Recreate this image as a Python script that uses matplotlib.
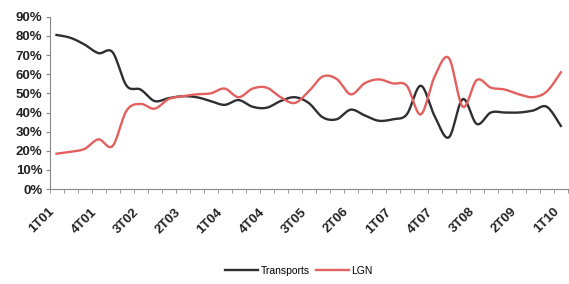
import numpy as np
import matplotlib
matplotlib.use("Agg")
import matplotlib.pyplot as plt
import matplotlib.transforms as mtransforms
from matplotlib.ticker import FixedLocator, PercentFormatter

# quarterly shares, 1T01 .. 1T10 (37 quarters)
transportes = [80.5, 79, 75.5, 71, 71.5, 54, 52, 46, 47.5, 48.5,
               48, 46, 44, 46.5, 43, 42.5, 46, 48, 45, 37.5,
               36.5, 41.5, 38.5, 35.7, 36.5, 39, 54, 38, 27, 47,
               34, 40, 40, 40, 41, 43, 33]
lgn = [18.5, 19.5, 21, 26, 22.5, 41, 44.5, 42, 47, 48.5,
       49.5, 50, 52.5, 48, 52.5, 53, 48, 45, 51, 58.8,
       57.5, 49.5, 55.3, 57.3, 55.2, 54, 39, 59, 68.5, 43,
       57, 53, 52, 49.5, 48, 51, 61]
tick_labels = ['1T01', '4T01', '3T02', '2T03', '1T04', '4T04', '3T05',
               '2T06', '1T07', '4T07', '3T08', '2T09', '1T10']


def smooth(y, n=14):
    # catmull-rom curve through the points, like excel's "smoothed line"
    y = np.asarray(y, float)
    x = np.arange(len(y), dtype=float)
    px = np.concatenate([[x[0]], x, [x[-1]]])
    py = np.concatenate([[y[0]], y, [y[-1]]])
    t = np.linspace(0, 1, n, endpoint=False)[:, None]
    xs, ys = [], []
    for i in range(len(y) - 1):
        for p, out in ((px, xs), (py, ys)):
            p0, p1, p2, p3 = p[i:i + 4]
            c = 0.5 * ((2 * p1) + (-p0 + p2) * t
                       + (2 * p0 - 5 * p1 + 4 * p2 - p3) * t ** 2
                       + (-p0 + 3 * p1 - 3 * p2 + p3) * t ** 3)
            out.append(c.ravel())
    xs.append([x[-1]])
    ys.append([y[-1]])
    return np.concatenate(xs), np.concatenate(ys)


plt.rcParams['font.family'] = ['Liberation Sans', 'DejaVu Sans']

fig = plt.figure(figsize=(5.69, 2.84), dpi=100)
ax = fig.add_axes([0.087, 0.334, 0.911, 0.607])

x1, y1 = smooth(transportes)
x2, y2 = smooth(lgn)
ax.plot(x1, y1, color='#2e2e33', lw=1.7, label='Transports')
ax.plot(x2, y2, color='#e2605e', lw=1.7, label='LGN')

n = len(transportes)
ax.set_xlim(-0.5, n - 0.5)
ax.set_ylim(0, 90)
ax.set_yticks(np.arange(0, 91, 10))
ax.yaxis.set_major_formatter(PercentFormatter(decimals=0))

ax.set_xticks(np.arange(0, n, 3))
ax.set_xticklabels(tick_labels, rotation=45, ha='right', va='top',
                   rotation_mode='anchor', fontweight='bold', fontsize=9.5,
                   color='#222222')
ax.xaxis.set_minor_locator(FixedLocator(np.arange(-0.5, n, 1)))
ax.tick_params(axis='x', which='major', length=0, pad=12)
ax.tick_params(axis='x', which='minor', length=3, color='#888888')
ax.tick_params(axis='y', length=3, color='#888888', labelsize=9.5,
               labelcolor='#222222', pad=2)
for lab in ax.get_yticklabels():
    lab.set_fontweight('bold')

offset = mtransforms.ScaledTranslation(-8 / 100, 0, fig.dpi_scale_trans)
for lab in ax.get_xticklabels():
    lab.set_transform(lab.get_transform() + offset)

for s in ('top', 'right'):
    ax.spines[s].set_visible(False)
for s in ('left', 'bottom'):
    ax.spines[s].set_color('#888888')

fig.legend(loc='lower center', bbox_to_anchor=(0.525, -0.005), ncol=2,
           frameon=False, fontsize=7.5, handlelength=3.2, handletextpad=0.2,
           columnspacing=0.6)

fig.savefig('out.png', dpi=100)
